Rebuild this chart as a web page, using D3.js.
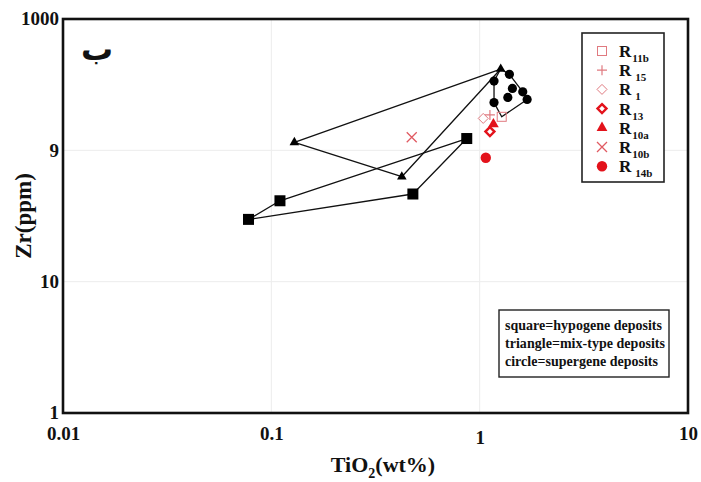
<!DOCTYPE html>
<html>
<head>
<meta charset="utf-8">
<script src="https://cdn.jsdelivr.net/npm/d3@7"></script>
<style>
body { margin: 0; background: #fff; }
svg text { font-family: "Liberation Serif", "Times New Roman", Times, serif !important; font-weight: bold; }
svg text.ar { font-family: "DejaVu Sans", sans-serif !important; }
</style>
</head>
<body>
<svg id="chart" width="701" height="482"></svg>
<script>
// TiO2 (wt%) vs Zr (ppm)
var squarePts = [[0.0777, 29.8], [0.110, 41.3], [0.867, 123], [0.478, 46.5]];
var trianglePts = [[1.262, 416], [0.129, 115], [0.423, 63]];
var circlePts = [[1.389, 379], [1.172, 337], [1.436, 296], [1.61, 279], [1.365, 253], [1.69, 244], [1.172, 231]];
// outline drawn round the circle group (triangle top, circles, open vertex)
var circleHull = [[1.262, 416], [1.389, 379], [1.61, 279], [1.69, 244], [1.276, 180], [1.172, 231], [1.172, 337]];

var samples = [
  {name: "R", sub: "11b", sym: "square", x: 1.276, y: 180},
  {name: "R", sub: "15", sym: "plus", x: 1.12, y: 186},
  {name: "R", sub: "1", sym: "diamond", x: 1.04, y: 175},
  {name: "R", sub: "13", sym: "diamondDot", x: 1.12, y: 139},
  {name: "R", sub: "10a", sym: "triangle", x: 1.164, y: 158},
  {name: "R", sub: "10b", sym: "cross", x: 0.472, y: 125.6},
  {name: "R", sub: "14b", sym: "circle", x: 1.07, y: 87.8}
];

var xTicks = [0.01, 0.1, 1, 10];
var xTickLabels = ["0.01", "0.1", "1", "10"];
var yTicks = [1, 10, 100, 1000];
var yTickLabels = ["1", "10", "9", "1000"];
var notes = ["square=hypogene deposits", "triangle=mix-type deposits", "circle=supergene deposits"];

var svg = d3.select("#chart"),
    margin = {top: 19, right: 13, bottom: 69, left: 63},
    width = +svg.attr("width") - margin.left - margin.right,
    height = +svg.attr("height") - margin.top - margin.bottom,
    g = svg.append("g").attr("transform", "translate(" + margin.left + "," + margin.top + ")");

var x = d3.scaleLog().domain([0.01, 10]).range([0, width]);
var y = d3.scaleLog().domain([1, 1000]).range([height, 0]);

// light grid
g.selectAll(".gx").data([0.1, 1]).enter().append("line")
  .attr("x1", function(d) { return x(d); }).attr("x2", function(d) { return x(d); })
  .attr("y1", 0).attr("y2", height)
  .attr("stroke", "#ececec").attr("stroke-width", 1);
g.selectAll(".gy").data([10, 100]).enter().append("line")
  .attr("y1", function(d) { return y(d); }).attr("y2", function(d) { return y(d); })
  .attr("x1", 0).attr("x2", width)
  .attr("stroke", "#ececec").attr("stroke-width", 1);

// axes (labels only, frame drawn below)
var xAxis = g.append("g")
  .attr("transform", "translate(0," + height + ")")
  .call(d3.axisBottom(x).tickValues(xTicks).tickSize(0).tickPadding(17)
    .tickFormat(function(d, i) { return xTickLabels[i]; }));
var yAxis = g.append("g")
  .call(d3.axisLeft(y).tickValues(yTicks).tickSize(0).tickPadding(4)
    .tickFormat(function(d, i) { return yTickLabels[i]; }));
[xAxis, yAxis].forEach(function(a) {
  a.select(".domain").remove();
  a.selectAll("text").attr("font-size", 19).attr("fill", "#111");
});
yAxis.selectAll("text").attr("dy", "0.3em");
xAxis.selectAll("text").attr("dy", "0.5em");
xAxis.selectAll("text").filter(function(d) { return d === 1; }).attr("dy", "0.75em");

var line = d3.line()
  .x(function(d) { return x(d[0]); })
  .y(function(d) { return y(d[1]); })
  .curve(d3.curveLinearClosed);

[squarePts, trianglePts, circleHull].forEach(function(pts) {
  g.append("path").datum(pts)
    .attr("fill", "none").attr("stroke", "#111").attr("stroke-width", 1.3)
    .attr("stroke-linejoin", "round")
    .attr("d", line);
});

g.selectAll(".sq").data(squarePts).enter().append("rect")
  .attr("x", function(d) { return x(d[0]) - 5.5; })
  .attr("y", function(d) { return y(d[1]) - 5.5; })
  .attr("width", 11).attr("height", 11).attr("fill", "#000");

g.selectAll(".tri").data(trianglePts).enter().append("path")
  .attr("transform", function(d) { return "translate(" + x(d[0]) + "," + y(d[1]) + ")"; })
  .attr("d", d3.symbol().type(d3.symbolTriangle).size(40))
  .attr("fill", "#000");

g.selectAll(".ci").data(circlePts).enter().append("circle")
  .attr("cx", function(d) { return x(d[0]); })
  .attr("cy", function(d) { return y(d[1]); })
  .attr("r", 4.6).attr("fill", "#000");

var red = "#e3121b", pale = "#e07a80";
function drawSym(sel, sym) {
  if (sym === "square") {
    sel.append("rect").attr("x", -4.5).attr("y", -4.5).attr("width", 9).attr("height", 9)
      .attr("fill", "none").attr("stroke", pale).attr("stroke-width", 1);
  } else if (sym === "plus") {
    sel.append("path").attr("d", "M-5,0H5M0,-5V5").attr("stroke", pale).attr("stroke-width", 1.2);
  } else if (sym === "diamond") {
    sel.append("path").attr("d", "M0,-5L5,0L0,5L-5,0Z").attr("fill", "none").attr("stroke", pale).attr("stroke-width", 1);
  } else if (sym === "diamondDot") {
    sel.append("path").attr("d", "M0,-4.5L4.5,0L0,4.5L-4.5,0Z").attr("fill", "none").attr("stroke", red).attr("stroke-width", 2.4);
  } else if (sym === "triangle") {
    sel.append("path").attr("d", d3.symbol().type(d3.symbolTriangle).size(50)).attr("fill", red);
  } else if (sym === "cross") {
    sel.append("path").attr("d", "M-5,-5L5,5M5,-5L-5,5").attr("stroke", "#e05a62").attr("stroke-width", 1.3);
  } else if (sym === "circle") {
    sel.append("circle").attr("r", 5.2).attr("fill", red);
  }
}

g.selectAll(".smp").data(samples).enter().append("g")
  .attr("transform", function(d) { return "translate(" + x(d.x) + "," + y(d.y) + ")"; })
  .each(function(d) { drawSym(d3.select(this), d.sym); });

// frame
g.append("rect").attr("x", 0).attr("y", 0).attr("width", width).attr("height", height)
  .attr("fill", "none").attr("stroke", "#111").attr("stroke-width", 2.6);

// legend
var leg = svg.append("g").attr("transform", "translate(582,33)");
leg.append("rect").attr("width", 82).attr("height", 149)
  .attr("fill", "#fff").attr("stroke", "#222").attr("stroke-width", 1.6);
var rows = leg.selectAll(".row").data(samples).enter().append("g")
  .attr("transform", function(d, i) { return "translate(0," + (18 + i * 19.2) + ")"; });
rows.append("g").attr("transform", "translate(20,0)")
  .each(function(d) { drawSym(d3.select(this), d.sym); });
var lt = rows.append("text").attr("x", 37).attr("y", 6).attr("font-size", 17).attr("fill", "#111");
lt.append("tspan").text(function(d) { return d.name; });
lt.append("tspan").attr("dx", function(d) { return d.sub === "15" || d.sub === "1" || d.sub === "14b" ? 4 : 1; })
  .attr("dy", 5).attr("font-size", 11).text(function(d) { return d.sub; });

// notes box
var nb = svg.append("g").attr("transform", "translate(499,310)");
nb.append("rect").attr("width", 170).attr("height", 67)
  .attr("fill", "#fff").attr("stroke", "#222").attr("stroke-width", 1.4);
nb.selectAll(".nt").data(notes).enter().append("text")
  .attr("x", 6).attr("y", function(d, i) { return 20 + i * 18; })
  .attr("font-size", 14).attr("fill", "#111")
  .attr("textLength", function(d, i) { return i === 0 ? 157 : (i === 1 ? 160 : 153); })
  .text(function(d) { return d; });

// corner letter
svg.append("text").attr("class", "ar").attr("x", 97).attr("y", 60).attr("text-anchor", "middle")
  .attr("font-size", 32).attr("fill", "#111").text("ب");

// axis titles
var xt = svg.append("text").attr("x", 383).attr("y", 472).attr("text-anchor", "middle")
  .attr("font-size", 22).attr("fill", "#111");
xt.append("tspan").text("TiO");
xt.append("tspan").attr("dy", 6).attr("font-size", 14).text("2");
xt.append("tspan").attr("dy", -6).text("(wt%)");

svg.append("text").attr("transform", "translate(31,216) rotate(-90)").attr("text-anchor", "middle")
  .attr("font-size", 23).attr("fill", "#111").text("Zr(ppm)");
</script>
</body>
</html>
